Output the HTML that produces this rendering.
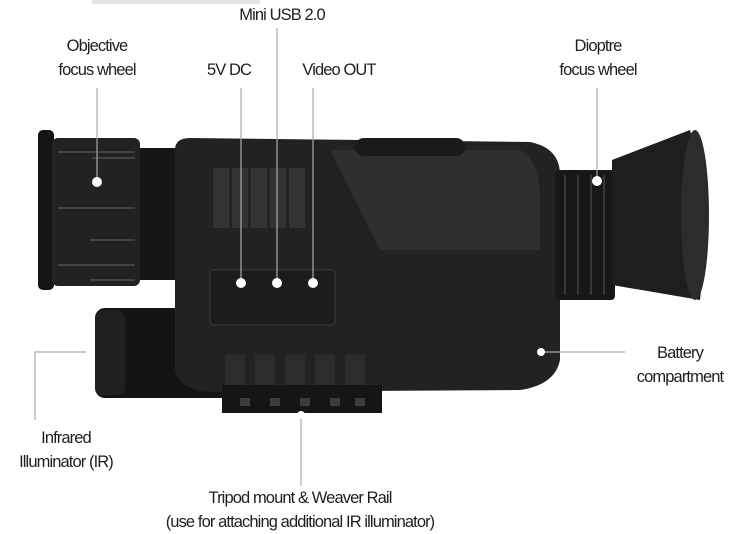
<!DOCTYPE html>
<html><head><style>
html,body{margin:0;padding:0;background:#fff;}
body{width:741px;height:534px;overflow:hidden;position:relative;font-family:"Liberation Sans",sans-serif;}
.t{position:absolute;font-size:16.5px;color:#1e1e1e;text-align:center;line-height:24px;letter-spacing:-0.9px;white-space:nowrap;transform:translateX(-50%);}
</style></head><body>
<svg width="741" height="534" style="position:absolute;left:0;top:0">
<rect x="92" y="0" width="168" height="4" fill="#e4e4e4"/>
<rect x="38" y="130" width="16" height="160" rx="5" fill="#151515"/>
<rect x="52" y="138" width="88" height="148" rx="6" fill="#222"/>
<g stroke="#444" stroke-width="2">
<line x1="58" y1="152" x2="135" y2="152"/><line x1="92" y1="158" x2="135" y2="158"/>
<line x1="58" y1="208" x2="135" y2="208"/><line x1="90" y1="240" x2="135" y2="240"/>
<line x1="58" y1="265" x2="135" y2="265"/><line x1="90" y1="280" x2="135" y2="280"/>
</g>
<rect x="140" y="148" width="45" height="132" fill="#161616"/>
<rect x="95" y="308" width="150" height="90" rx="10" fill="#141414"/>
<rect x="95" y="310" width="30" height="85" rx="8" fill="#202020"/>
<path d="M175 150 Q175 138 190 138 L530 142 Q560 148 560 175 L560 360 Q555 385 520 390 L210 392 Q180 390 175 370 Z" fill="#222"/>
<path d="M330 150 L520 150 Q540 160 540 200 L540 250 L380 250 Z" fill="#2e2e2e"/>
<rect x="355" y="138" width="110" height="18" rx="9" fill="#1a1a1a"/>
<g fill="#333"><rect x="213" y="168" width="16" height="60"/><rect x="232" y="168" width="16" height="60"/><rect x="251" y="168" width="16" height="60"/><rect x="270" y="168" width="16" height="60"/><rect x="289" y="168" width="16" height="60"/></g>
<rect x="210" y="270" width="125" height="55" rx="4" fill="#1c1c1c" stroke="#3a3a3a"/>
<g fill="#2c2c2c"><rect x="225" y="355" width="20" height="30"/><rect x="255" y="355" width="20" height="30"/><rect x="285" y="355" width="20" height="30"/><rect x="315" y="355" width="20" height="30"/><rect x="345" y="355" width="20" height="30"/></g>
<rect x="222" y="385" width="160" height="28" fill="#151515"/>
<g fill="#3c3c3c"><rect x="240" y="398" width="10" height="8"/><rect x="270" y="398" width="10" height="8"/><rect x="300" y="398" width="10" height="8"/><rect x="330" y="398" width="10" height="8"/><rect x="355" y="398" width="10" height="8"/></g>
<rect x="555" y="170" width="60" height="130" rx="4" fill="#181818"/>
<g stroke="#383838" stroke-width="2"><line x1="565" y1="175" x2="565" y2="295"/><line x1="578" y1="175" x2="578" y2="295"/><line x1="591" y1="175" x2="591" y2="295"/><line x1="604" y1="175" x2="604" y2="295"/></g>
<path d="M612 160 L690 130 Q712 200 700 300 L612 285 Z" fill="#1e1e1e"/>
<ellipse cx="695" cy="215" rx="14" ry="85" fill="#2c2c2c"/>
<g stroke="#aaa" stroke-width="1.2" fill="none">
<line x1="97" y1="88" x2="97" y2="182"/>
<line x1="241" y1="88" x2="241" y2="283"/>
<line x1="277" y1="28" x2="277" y2="283"/>
<line x1="313" y1="88" x2="313" y2="283"/>
<line x1="597" y1="88" x2="597" y2="181"/>
<line x1="541" y1="352" x2="625" y2="352"/>
<polyline points="90,352 35,352 35,420"/>
<line x1="301" y1="415" x2="301" y2="486"/>
</g>
<g fill="#fff"><circle cx="97" cy="182" r="5"/><circle cx="241" cy="283" r="5"/><circle cx="277" cy="283" r="5"/><circle cx="313" cy="283" r="5"/><circle cx="597" cy="181" r="5"/><circle cx="541" cy="352" r="4"/><circle cx="90" cy="352" r="4"/><circle cx="301" cy="415" r="4"/></g>
</svg>
<div class="t" style="left:282px;top:3px">Mini USB 2.0</div>
<div class="t" style="left:97px;top:34px">Objective<br>focus wheel</div>
<div class="t" style="left:229px;top:58px">5V DC</div>
<div class="t" style="left:339px;top:58px">Video OUT</div>
<div class="t" style="left:598px;top:34px">Dioptre<br>focus wheel</div>
<div class="t" style="left:680px;top:341px">Battery<br>compartment</div>
<div class="t" style="left:66px;top:426px">Infrared<br>Illuminator (IR)</div>
<div class="t" style="left:300px;top:486px">Tripod mount &amp; Weaver Rail<br>(use for attaching additional IR illuminator)</div>
</body></html>
